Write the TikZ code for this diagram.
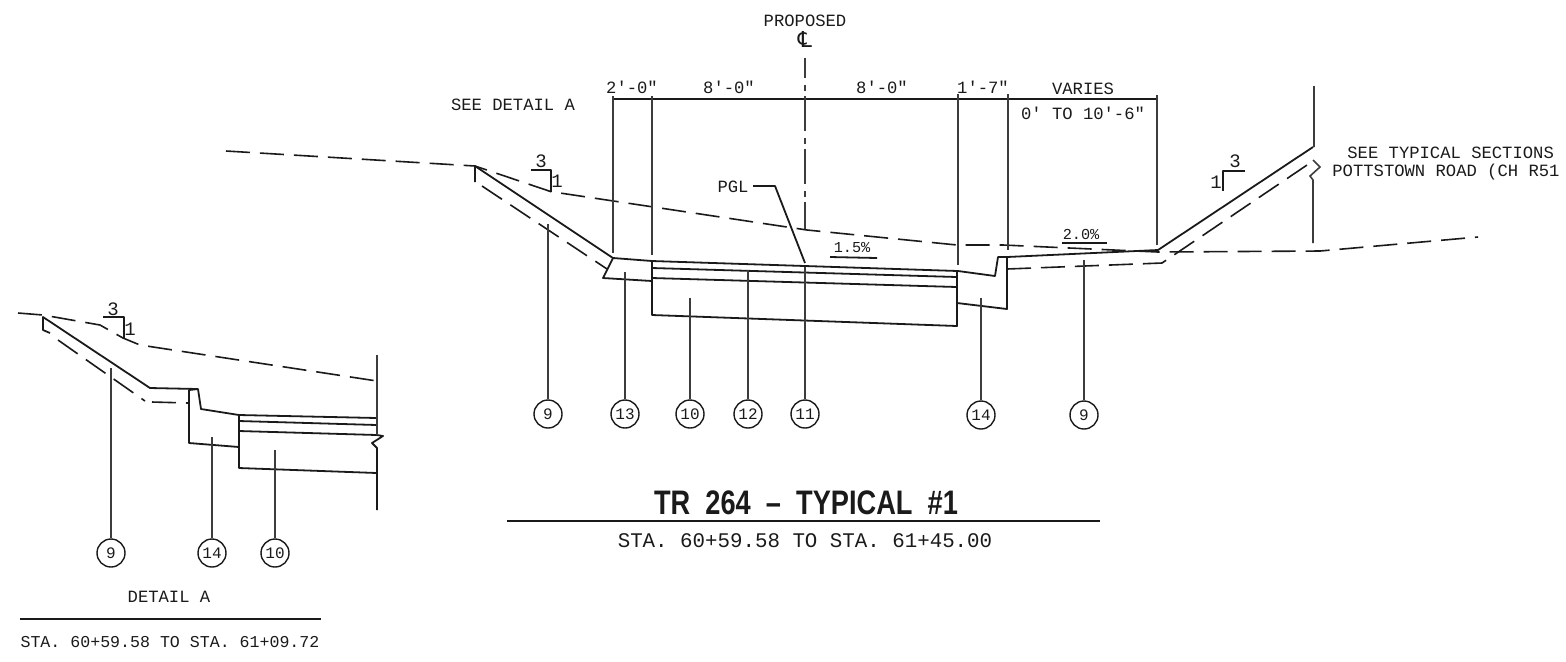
\documentclass[tikz,border=0pt]{standalone}
\usepackage{fontspec}
\setmainfont{Liberation Sans}
\setmonofont{Liberation Mono}
\newfontfamily\clfont{DejaVu Sans}
\newfontfamily\titlefont[FakeStretch=0.8,WordSpace=2]{Liberation Sans}
\usetikzlibrary{positioning, calc}
\definecolor{inkline}{HTML}{1A1A1A}
\begin{document}
\begin{tikzpicture}[
  x=0.5pt, y=-0.5pt,
  solidline/.style={inkline, line width=0.9pt, line join=round},
  groundline/.style={inkline, line width=0.8pt, dash pattern=on 12pt off 5pt},
  leaderline/.style={inkline!85, line width=0.8pt},
  callout/.style={circle, draw=inkline, line width=0.7pt, minimum size=14pt, inner sep=0pt, font=\ttfamily\fontsize{8}{8}\selectfont, text=inkline},
  cadtext/.style={inner sep=0pt, font=\ttfamily\fontsize{8.6}{8.6}\selectfont, text=inkline},
  slopetext/.style={inner sep=0pt, font=\ttfamily\fontsize{9.5}{9.5}\selectfont, text=inkline},
  titletext/.style={inner sep=0pt, font=\titlefont\bfseries\fontsize{17}{17}\selectfont, text=inkline}
]
  \useasboundingbox (0,0) rectangle (1566,661);

  % Existing ground
  \draw[groundline] (226,151) -- (475,166) -- (552,192) -- (560,193) -- (807,230) -- (957,245) -- (1003,245) -- (1158,252) -- (1320,251) -- (1478,237);

  % Road section
  \draw[solidline] (475,182) -- (475,166) -- (613,258) -- (652,261) -- (805,266) -- (958,271) -- (995,276) -- (998,257) -- (1007,257) -- (1158,250) -- (1313,147);
  \draw[solidline] (613,258) -- (603,278) -- (652,281);
  \draw[solidline] (652,261) -- (652,315) -- (957,326) -- (957,271);
  \draw[solidline] (652,268) -- (957,277);
  \draw[solidline] (652,278) -- (957,287);
  \draw[solidline] (957,303) -- (1007,309) -- (1007,257);
  \draw[groundline] (482,186) -- (607,269);
  \draw[groundline] (1007,269) -- (1162,263) -- (1310,163);

  % Dimension lines
  \coordinate (dimA) at (613,96);
  \coordinate (dimB) at (652,96);
  \coordinate (dimC) at (958,94);
  \coordinate (dimD) at (1008,94);
  \coordinate (dimE) at (1157,95);
  \draw[solidline] (613,99) -- (1157,99);
  \draw[leaderline] (dimA) -- (613,253);
  \draw[leaderline] (dimB) -- (652,255);
  \draw[leaderline] (dimC) -- (958,265);
  \draw[leaderline] (dimD) -- (1008,250);
  \draw[leaderline] (dimE) -- (1157,245);
  \draw[leaderline, dash pattern=on 17.5pt off 3.5pt on 3pt off 2.5pt, dash phase=7.5pt] (805,58) -- (805,229);

  % Match line at right
  \draw[leaderline] (1314,86) -- (1314,147) (1313,160) -- (1320,167) -- (1310,176) -- (1313,180) -- (1313,243);

  \node[cadtext] (propname) at (805,21) {PROPOSED};
  \node[cadtext, font=\clfont\fontsize{11}{11}\selectfont] (clname) at (805,39) {℄};
  \node[cadtext] (seedetail) at (513,105) {SEE DETAIL A};
  \node[cadtext] (dimtwo) at (632,87) {2'-0"};
  \node[cadtext] (dimeightl) at (729,87) {8'-0"};
  \node[cadtext] (dimeightr) at (882,87) {8'-0"};
  \node[cadtext] (dimone) at (983,87) {1'-7"};
  \node[cadtext] (varies) at (1083,89) {VARIES};
  \node[cadtext] (varrange) at (1083,113) {0' TO 10'-6"};
  \node[cadtext, anchor=west] (seetyp) at (1347,153) {SEE TYPICAL SECTIONS};
  \node[cadtext, anchor=west] (pottstown) at (1332,172) {POTTSTOWN ROAD (CH R51};

  % PGL leader
  \node[cadtext] (pgl) at (733,187) {PGL};
  \coordinate (pglend) at (805,263);
  \draw[solidline] (pgl) ++(20,-1) -- (775,186) -- (pglend);

  % Slopes
  \node[slopetext] (slopeA) at (541,161) {3};
  \node[slopetext] (slopeB) at (557,181) {1};
  \draw[solidline] (531,170) -- (551,170) -- (551,192);
  \node[slopetext] (slopeC) at (1235,161) {3};
  \node[slopetext] (slopeD) at (1216,182) {1};
  \draw[solidline] (1245,171) -- (1223,171) -- (1223,191);
  \node[cadtext, font=\ttfamily\fontsize{7.6}{7.6}\selectfont] (gradeA) at (852,248) {1.5\%};
  \draw[solidline] (830,257) -- (877,258);
  \node[cadtext, font=\ttfamily\fontsize{7.6}{7.6}\selectfont] (gradeB) at (1081,234) {2.0\%};
  \draw[solidline] (1062,243) -- (1107,243);

  % Callouts
  \node[callout] (nineL) at (548,414) {9};
  \node[callout] (thirteen) at (625,414) {13};
  \node[callout] (ten) at (690,414) {10};
  \node[callout] (twelve) at (748,414) {12};
  \node[callout] (eleven) at (805,414) {11};
  \node[callout] (fourteen) at (981,415) {14};
  \node[callout] (nineR) at (1084,415) {9};
  \coordinate (nineLtop) at (548,224);
  \coordinate (thirteentop) at (625,272);
  \coordinate (tentop) at (690,298);
  \coordinate (twelvetop) at (748,270);
  \coordinate (eleventop) at (805,267);
  \coordinate (fourteentop) at (981,298);
  \coordinate (nineRtop) at (1084,260);
  \draw[leaderline] (nineLtop) -- (nineL);
  \draw[leaderline] (thirteentop) -- (thirteen);
  \draw[leaderline] (tentop) -- (ten);
  \draw[leaderline] (twelvetop) -- (twelve);
  \draw[leaderline] (eleventop) -- (eleven);
  \draw[leaderline] (fourteentop) -- (fourteen);
  \draw[leaderline] (nineRtop) -- (nineR);

  % Title
  \node[titletext] (title) at (806,503) {TR 264 – TYPICAL \#1};
  \draw[solidline] (507,521) -- (1100,521);
  \node[cadtext, font=\ttfamily\fontsize{10.4}{10.4}\selectfont] (station) at (805,541) {STA. 60+59.58 TO STA. 61+45.00};

  % Detail A
  \draw[groundline] (18,313) -- (43,315) -- (100,325) -- (123,338) -- (140,345) -- (377,381);
  \draw[solidline] (50,333) -- (43,330) -- (43,317) -- (150,388) -- (198,389) -- (201,409) -- (239,415) -- (377,418);
  \draw[solidline] (198,389) -- (189,390) -- (189,443) -- (239,447);
  \draw[solidline] (239,415) -- (239,468) -- (377,473);
  \draw[solidline] (239,421) -- (377,425);
  \draw[solidline] (239,431) -- (377,435) -- (383,436) -- (372,443) -- (377,448) -- (377,510);
  \draw[leaderline] (377,355) -- (377,435);
  \draw[groundline] (58,340) -- (145,401);
  \draw[groundline] (152,402) -- (189,403);
  \node[slopetext] (slopeE) at (113,309) {3};
  \node[slopetext] (slopeF) at (130,329) {1};
  \draw[solidline] (103,317) -- (124,317) -- (124,338);
  \node[callout] (nineD) at (111,553) {9};
  \node[callout] (fourteenD) at (212,553) {14};
  \node[callout] (tenD) at (275,553) {10};
  \coordinate (nineDtop) at (111,368);
  \coordinate (fourteenDtop) at (212,437);
  \coordinate (tenDtop) at (275,450);
  \draw[leaderline] (nineDtop) -- (nineD);
  \draw[leaderline] (fourteenDtop) -- (fourteenD);
  \draw[leaderline] (tenDtop) -- (tenD);
  \node[cadtext] (detail) at (169,597) {DETAIL A};
  \draw[solidline] (20,619) -- (321,619);
  \node[cadtext, font=\ttfamily\fontsize{8.3}{8.3}\selectfont] (stationD) at (170,642) {STA. 60+59.58 TO STA. 61+09.72};
\end{tikzpicture}
\end{document}
